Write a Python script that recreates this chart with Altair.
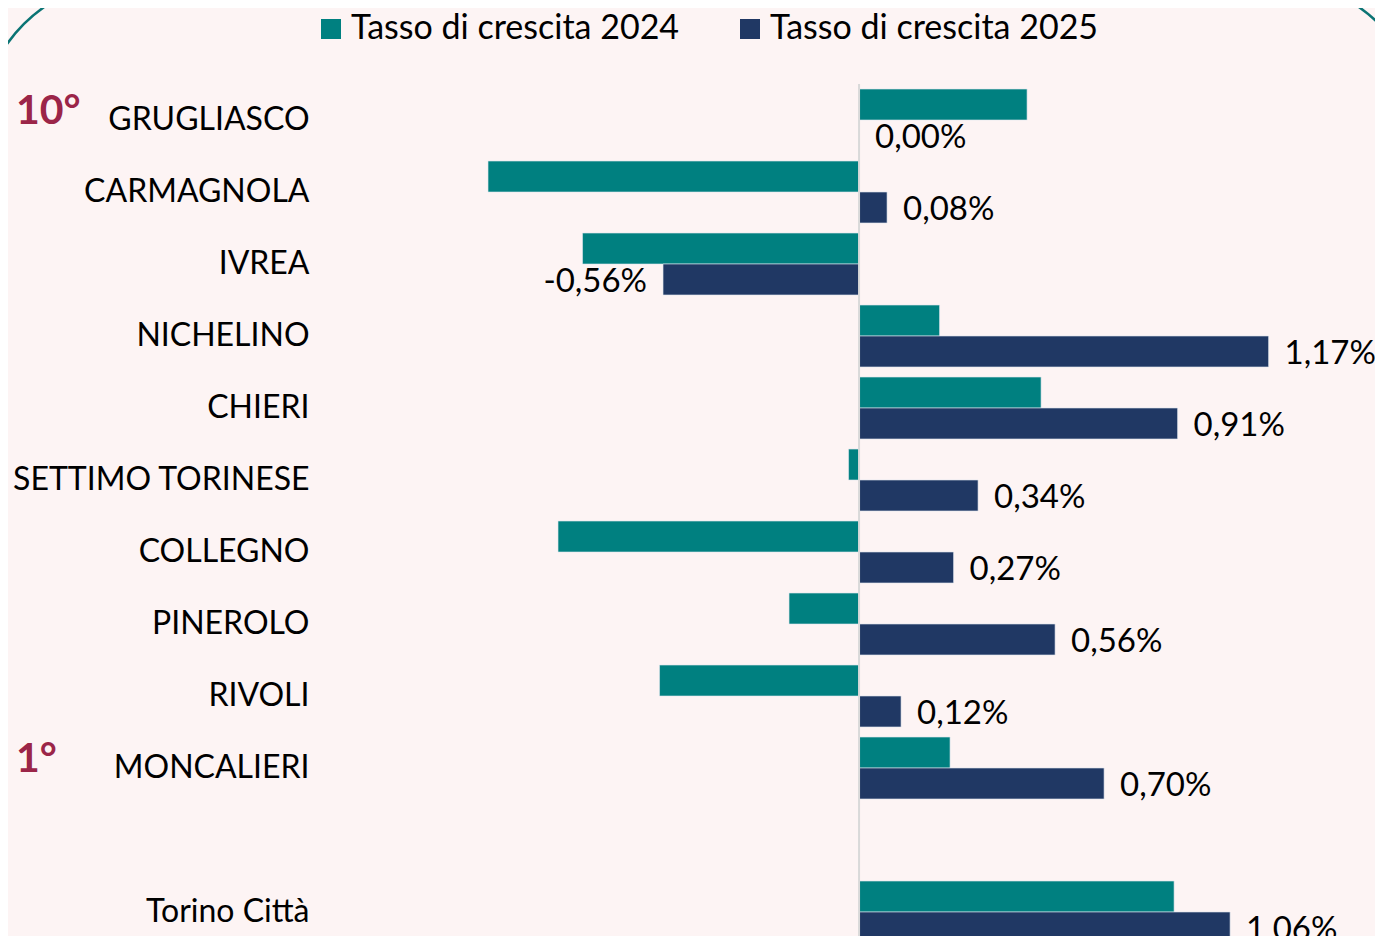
import altair as alt
import pandas as pd

cities = ["GRUGLIASCO", "CARMAGNOLA", "IVREA", "NICHELINO", "CHIERI",
          "SETTIMO TORINESE", "COLLEGNO", "PINEROLO", "RIVOLI", "MONCALIERI",
          "Torino Città"]
axis_order = cities[:10] + [" "] + cities[10:]
v2024 = [0.48, -1.06, -0.79, 0.23, 0.52, -0.03, -0.86, -0.20, -0.57, 0.26, 0.90]
v2025 = [0.00, 0.08, -0.56, 1.17, 0.91, 0.34, 0.27, 0.56, 0.12, 0.70, 1.06]
series = ["Tasso di crescita 2024", "Tasso di crescita 2025"]
colors = ["#008080", "#203864"]
rank_cities = ["GRUGLIASCO", "MONCALIERI"]
rank_labels = ["10°", "1°"]

rows = []
for c, a, b in zip(cities, v2024, v2025):
    rows.append({"city": c, "serie": series[0], "value": a, "label": ""})
    rows.append({"city": c, "serie": series[1], "value": b,
                 "label": f"{b:.2f}".replace(".", ",") + "%"})
df = pd.DataFrame(rows)
ranks = pd.DataFrame({"city": rank_cities, "rank": rank_labels})

FONT = "Lato"
FS = 33

yscale = alt.Scale(domain=axis_order, range=[0, 864], paddingInner=0.14, paddingOuter=0.07)
xscale = alt.Scale(domain=[-1.54, 1.474], nice=False, zero=False)
yoff = alt.YOffset("serie:N", scale=alt.Scale(domain=series, paddingInner=0, paddingOuter=0))

base = alt.Chart(df)

frame = alt.Chart(pd.DataFrame({"a": [0]})).mark_rect(
    fillOpacity=0, stroke="#0b7474", strokeWidth=2.5, cornerRadius=150
).encode(x=alt.value(-340), x2=alt.value(1103), y=alt.value(-104), y2=alt.value(1100))

bars = base.mark_bar(stroke="#dfe6ee", strokeWidth=0.6).encode(
    y=alt.Y("city:N", scale=yscale, title=None,
            axis=alt.Axis(labelFontSize=32, labelColor="#000000", labelPadding=11,
                          ticks=False, domain=False, labelFont=FONT, labelLimit=400)),
    yOffset=yoff,
    x=alt.X("value:Q", scale=xscale, axis=None),
    color=alt.Color("serie:N", scale=alt.Scale(domain=series, range=colors),
                    legend=alt.Legend(title=None, orient="none", direction="horizontal",
                                      legendX=-6, legendY=-72, symbolType="square",
                                      symbolSize=400, symbolStrokeWidth=0,
                                      labelFontSize=34, labelFont=FONT, labelColor="#000000",
                                      labelOffset=3, columnPadding=53, padding=0,
                                      labelLimit=500)),
)

pos = base.transform_filter("datum.serie == 'Tasso di crescita 2025' && datum.value >= 0").mark_text(
    align="left", baseline="middle", dx=16, dy=3, fontSize=FS, font=FONT, color="#000000"
).encode(y=alt.Y("city:N", scale=yscale), yOffset=yoff,
         x=alt.X("value:Q", scale=xscale), text="label:N")

neg = base.transform_filter("datum.serie == 'Tasso di crescita 2025' && datum.value < 0").mark_text(
    align="right", baseline="middle", dx=-16, dy=3, fontSize=FS, font=FONT, color="#000000"
).encode(y=alt.Y("city:N", scale=yscale), yOffset=yoff,
         x=alt.X("value:Q", scale=xscale), text="label:N")

zero = alt.Chart(pd.DataFrame({"z": [0]})).mark_rule(color="#d9d9d9", strokeWidth=2).encode(
    x=alt.X("z:Q", scale=xscale)
)

rank_text = alt.Chart(ranks).mark_text(
    align="left", baseline="middle", dy=-8, fontSize=41, fontWeight="bold",
    font=FONT, color="#9b2548"
).encode(y=alt.Y("city:N", scale=yscale), x=alt.value(-304), text="rank:N")

chart = alt.layer(frame, bars, zero, pos, neg, rank_text).properties(
    width=1055, height=852,
    autosize=alt.AutoSizeParams(type="none"),
    padding={"left": 312, "top": 76, "right": 0, "bottom": 0},
    background="#fdf4f4",
).configure(font=FONT).configure_view(strokeWidth=0, stroke="transparent")

chart.save("out.html", embed_options={"renderer": "svg", "actions": False})
